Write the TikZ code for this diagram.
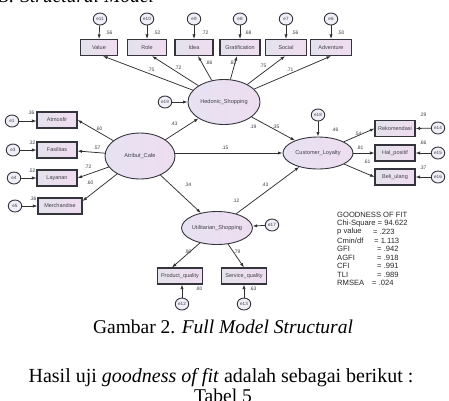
\documentclass[tikz,border=0pt]{standalone}
\usepackage{fontspec}
\setmainfont{Liberation Serif}
\newfontfamily\diagfont{Liberation Sans}
\usetikzlibrary{shapes.geometric,arrows.meta}
\definecolor{boxL}{HTML}{E4E2EC}
\definecolor{boxR}{HTML}{F0DCF0}
\definecolor{ellL}{HTML}{E6E2F2}
\definecolor{ellR}{HTML}{EEDDF0}
\definecolor{edraw}{HTML}{34343C}
\definecolor{linec}{HTML}{303030}
\definecolor{txt}{HTML}{404048}
\tikzset{
  obs/.style={draw=edraw, line width=1.1pt, left color=boxL, right color=boxR,
    minimum width=#1, minimum height=16pt, inner sep=0pt,
    font=\diagfont\fontsize{5.5}{6}\selectfont, text=txt},
  lat/.style={ellipse, draw=edraw, line width=0.9pt, left color=ellL, right color=ellR,
    inner sep=0pt, font=\diagfont\fontsize{5.6}{6}\selectfont, text=txt},
  err/.style={ellipse, draw=edraw, line width=0.9pt, fill=ellL!60,
    minimum width=13.5pt, minimum height=12pt, inner sep=0pt,
    font=\diagfont\fontsize{4.6}{5}\selectfont, text=txt},
  lab/.style={font=\diagfont\fontsize{5}{5}\selectfont, text=txt, inner sep=0pt},
  arr/.style={-{Latex[length=4.5pt,width=3.2pt]}, line width=0.75pt, draw=linec},
  gof/.style={font=\diagfont\fontsize{7.6}{8}\selectfont, text=black!85, inner sep=0pt, anchor=west},
  capt/.style={font=\fontsize{19.5}{21}\selectfont, text=black, inner sep=0pt, anchor=base}
}
\begin{document}
\begin{tikzpicture}[x=1pt,y=-1pt]
\useasboundingbox (0,0) rectangle (449,400);
\fill[white] (0,0) rectangle (449,400);

% clipped heading at top
\node[capt, anchor=base west] (head) at (-1,2) {3. \textit{Structural Model}};

% ---------- top indicators ----------
\node[obs=37] (value) at (99,47.5) {Value};
\node[obs=39] (role) at (147,47.5) {Role};
\node[obs=38] (idea) at (194,47.5) {Idea};
\node[obs=40] (grat) at (240,47.5) {Gratification};
\node[obs=41] (social) at (286,47.5) {Social};
\node[obs=41] (adv) at (331,47.5) {Adventure};

\node[err] (e11) at (100,19) {e11};
\node[err] (e10) at (147,19) {e10};
\node[err] (e9) at (194,19) {e9};
\node[err] (e8) at (240,19) {e8};
\node[err] (e7) at (286,19) {e7};
\node[err] (e6) at (331,19) {e6};
\foreach \e/\b in {e11/value,e10/role,e9/idea,e8/grat,e7/social,e6/adv}
  \draw[arr] (\e) -- (\b.north);
\node[lab] (r11) at (109,33) {.56};
\node[lab] (r10) at (157,33) {.52};
\node[lab] (r9) at (205,33) {.72};
\node[lab] (r8) at (248,33) {.68};
\node[lab] (r7) at (295,33) {.56};
\node[lab] (r6) at (341,33) {.50};

% ---------- Hedonic ----------
\node[lat, minimum width=72pt, minimum height=45pt] (hed) at (224,102) {Hedonic\_Shopping};
\node[err] (e19) at (165,102) {e19};
\draw[arr] (e19) -- (hed);
\draw[arr] (hed) -- ([xshift=4pt]value.south);
\draw[arr] (hed) -- ([xshift=5pt]role.south);
\draw[arr] (hed) -- ([xshift=4pt]idea.south);
\draw[arr] (hed) -- ([xshift=-3pt]grat.south);
\draw[arr] (hed) -- ([xshift=-1pt]social.south);
\draw[arr] (hed) -- (adv.south);
\node[lab] (l1) at (151,70) {.75};
\node[lab] (l2) at (178,68) {.72};
\node[lab] (l3) at (209,63) {.86};
\node[lab] (l4) at (233,63) {.82};
\node[lab] (l5) at (263,66) {.75};
\node[lab] (l6) at (290,70) {.71};

% ---------- Atribut Cafe ----------
\node[lat, minimum width=70pt, minimum height=46pt] (atr) at (140,156) {Atribut\_Cafe};
\node[obs=40] (atm) at (57,120) {Atmosfir};
\node[obs=40] (fas) at (57,150) {Fasilitas};
\node[obs=40] (lay) at (57,178) {Layanan};
\node[obs=44] (mer) at (60,206) {Merchandise};
\node[err] (e1) at (12,121) {e1};
\node[err] (e3) at (13,150) {e3};
\node[err] (e4) at (14,178) {e4};
\node[err] (e5) at (15,206) {e5};
\draw[arr] (e1) -- (atm.west |- e1);
\draw[arr] (e3) -- (fas.west);
\draw[arr] (e4) -- (lay.west);
\draw[arr] (e5) -- (mer.west);
\node[lab] (r1) at (31,113) {.36};
\node[lab] (r3) at (32,143) {.32};
\node[lab] (r4) at (32,171) {.52};
\node[lab] (r5) at (33,199) {.36};
\draw[arr] (atr) -- (atm.east);
\draw[arr] (atr) -- ([yshift=-1pt]fas.east);
\draw[arr] (atr) -- (lay.east);
\draw[arr] (atr) -- ([yshift=5pt]mer.east);
\node[lab] (a1) at (99,129) {.60};
\node[lab] (a2) at (97,148) {.57};
\node[lab] (a3) at (88,167) {.72};
\node[lab] (a4) at (90,183) {.60};

% ---------- Customer Loyalty ----------
\node[lat, minimum width=70pt, minimum height=32pt] (loy) at (318,153) {Customer\_Loyalty};
\node[err] (e18) at (318,115) {e18};
\draw[arr] (e18) -- (loy);
\node[lab] (r18) at (335,130) {.46};
\node[obs=40] (rek) at (395,128.5) {Rekomendasi};
\node[obs=40] (hal) at (395,153) {Hal\_positif};
\node[obs=40] (bel) at (395,177) {Beli\_ulang};
\node[err] (e14) at (438,128) {e14};
\node[err] (e15) at (438,153) {e15};
\node[err] (e16) at (438,177) {e16};
\draw[arr] (e14) -- (rek.east);
\draw[arr] (e15) -- (hal.east);
\draw[arr] (e16) -- (bel.east);
\node[lab] (r14) at (423,115) {.29};
\node[lab] (r15) at (423,143) {.66};
\node[lab] (r16) at (423,168) {.37};
\draw[arr] (loy) -- (rek.west);
\draw[arr] (loy) -- (hal.west);
\draw[arr] (loy) -- (bel.west);
\node[lab] (c1) at (358,134) {.54};
\node[lab] (c2) at (360,148) {.81};
\node[lab] (c3) at (367,162) {.61};

% ---------- structural paths ----------
\draw[arr] (atr) -- (hed);
\node[lab] (p1) at (174,124) {.43};
\draw[arr] (atr.east |- loy.west) -- (loy.west);
\node[lab] (p2) at (225,148) {.15};
\draw[arr] (hed) -- (loy);
\node[lab] (p3) at (253,127) {.19};
\node[lab] (p4) at (276,127) {.35};

% ---------- Utilitarian ----------
\node[lat, minimum width=66pt, minimum height=33pt] (uti) at (217,228) {Utilitarian\_Shopping};
\node[err] (e17) at (272,225) {e17};
\draw[arr] (e17) -- (uti);
\draw[arr] (atr) -- (uti);
\node[lab] (p5) at (188,185) {.34};
\draw[arr] (uti) -- (loy);
\node[lab] (p6) at (265,185) {.43};
\node[lab] (r17) at (236,201) {.12};

\node[obs=45] (pq) at (180,276) {Product\_quality};
\node[obs=45] (sq) at (244,276) {Service\_quality};
\draw[arr] (uti) -- ([xshift=-8pt]pq.north);
\draw[arr] (uti) -- (sq.north);
\node[lab] (u1) at (188,252) {.90};
\node[lab] (u2) at (237,252) {.79};
\node[err] (e12) at (182,304) {e12};
\node[err] (e13) at (244,304) {e13};
\draw[arr] (e12) -- (pq.south -| e12);
\draw[arr] (e13) -- (sq.south);
\node[lab] (r12) at (199,289) {.80};
\node[lab] (r13) at (253,289) {.63};

% ---------- goodness of fit ----------
\node[gof] (g0) at (337,215) {GOODNESS OF FIT};
\node[gof] (g1) at (337,223.5) {Chi-Square = 94.622};
\node[gof] (g2) at (337,232) {p value};
\node[gof] (g3) at (337,240.5) {Cmin/df};
\node[gof] (g4) at (337,249) {GFI};
\node[gof] (g5) at (337,257.5) {AGFI};
\node[gof] (g6) at (337,266) {CFI};
\node[gof] (g7) at (337,274.5) {TLI};
\node[gof] (g8) at (337,283) {RMSEA};
\node[gof] (v2) at (373,232) {= .223};
\node[gof] (v3) at (374,240.5) {= 1.113};
\node[gof] (v4) at (377,249) {= .942};
\node[gof] (v5) at (377,257.5) {= .918};
\node[gof] (v6) at (377,266) {= .991};
\node[gof] (v7) at (377,274.5) {= .989};
\node[gof] (v8) at (372,283) {= .024};

% ---------- captions ----------
\node[capt] (cap) at (223,333) {Gambar 2. \textit{Full Model Structural}};
\node[capt, font=\fontsize{20}{21}\selectfont] (hasil) at (221,382) {Hasil uji \textit{goodness of fit} adalah sebagai berikut :};
\node[capt] (tab) at (223,402) {Tabel 5};
\end{tikzpicture}
\end{document}
